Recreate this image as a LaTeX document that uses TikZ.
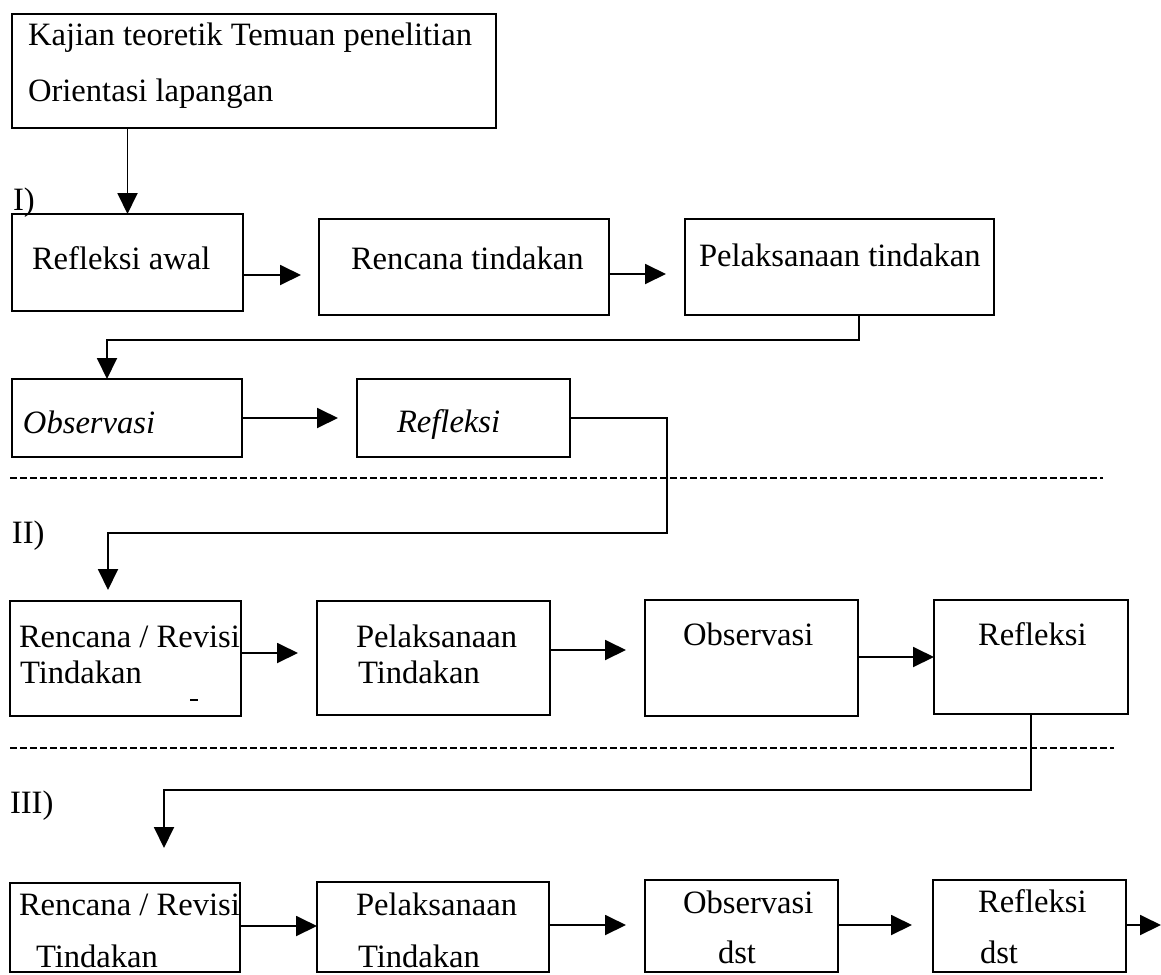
\documentclass[tikz,border=0pt]{standalone}
\usepackage{fontspec}
\setmainfont{Liberation Serif}
\usetikzlibrary{arrows.meta}
\begin{document}
\begin{tikzpicture}[x=1pt,y=-1pt,
  box/.style={draw, line width=2pt, inner sep=0pt, outer sep=0pt, anchor=north west},
  txt/.style={anchor=base west, inner sep=0pt, outer sep=0pt, font=\fontsize{32.6}{38}\selectfont},
  itxt/.style={txt, font=\fontsize{32.6}{38}\selectfont\itshape},
  arr/.style={line width=1.9pt, -{Triangle[length=21pt,width=20pt]}},
  sepline/.style={line width=1.5pt, dash pattern=on 7pt off 3pt}]
\useasboundingbox (0,0) rectangle (1161,974);

% boxes
\node[box, minimum width=484pt, minimum height=114pt] (b0) at (12,14) {};
\node[box, minimum width=231pt, minimum height=97pt] (ra) at (12,214) {};
\node[box, minimum width=290pt, minimum height=96pt] (rt) at (319,219) {};
\node[box, minimum width=309pt, minimum height=96pt] (pt) at (685,219) {};
\node[box, minimum width=230pt, minimum height=78pt] (ob1) at (12,379) {};
\node[box, minimum width=213pt, minimum height=78pt] (rf1) at (357,379) {};
\node[box, minimum width=231pt, minimum height=115pt] (rr2) at (10,601) {};
\node[box, minimum width=233pt, minimum height=114pt] (pl2) at (317,601) {};
\node[box, minimum width=213pt, minimum height=116pt] (ob2) at (645,600) {};
\node[box, minimum width=194pt, minimum height=114pt] (rf2) at (934,600) {};
\node[box, minimum width=230pt, minimum height=89pt] (rr3) at (10,883) {};
\node[box, minimum width=232pt, minimum height=90pt] (pl3) at (317,882) {};
\node[box, minimum width=193pt, minimum height=92pt] (ob3) at (645,880) {};
\node[box, minimum width=193pt, minimum height=92pt] (rf3) at (933,880) {};

% texts
\node[txt] (t0a) at (28,46) {Kajian teoretik Temuan penelitian};
\node[txt] (t0b) at (28,101) {Orientasi lapangan};
\node[txt] (tra) at (32,269) {Refleksi awal};
\node[txt] (trt) at (351,269) {Rencana tindakan};
\node[txt] (tpt) at (699,266) {Pelaksanaan tindakan};
\node[itxt] (tob1) at (23,433) {Observasi};
\node[itxt] (trf1) at (397,432) {Refleksi};
\node[txt] (trr2a) at (19,647) {Rencana / Revisi};
\node[txt] (trr2b) at (20,683) {Tindakan};
\node[txt] (tpl2a) at (356,647) {Pelaksanaan};
\node[txt] (tpl2b) at (358,683) {Tindakan};
\node[txt] (tob2) at (683,645) {Observasi};
\node[txt] (trf2) at (978,645) {Refleksi};
\node[txt] (trr3a) at (19,915) {Rencana / Revisi};
\node[txt] (trr3b) at (36,967) {Tindakan};
\node[txt] (tpl3a) at (356,915) {Pelaksanaan};
\node[txt] (tpl3b) at (358,967) {Tindakan};
\node[txt] (tob3a) at (683,913) {Observasi};
\node[txt] (tob3b) at (718,963) {dst};
\node[txt] (trf3a) at (978,912) {Refleksi};
\node[txt] (trf3b) at (980,963) {dst};

% cycle labels
\node[txt] (l1) at (13,210) {I)};
\node[txt] (l2) at (12,543) {II)};
\node[txt] (l3) at (10,813) {III)};

% separators
\draw[sepline] (10,478) -- (1103,478);
\draw[sepline] (10,748) -- (1114,748);

% stray mark
\draw[line width=2pt] (190,700) -- (198,700);

% connectors
\draw[arr] (b0.south -| ra.north) -- (ra.north);
\draw[arr, shorten >=18pt] (ra.east |- 0,275) -- (rt.west |- 0,275);
\draw[arr, shorten >=19pt] (rt.east |- 0,274) -- (pt.west |- 0,274);
\draw[arr] (pt.south -| 859,0) -- (859,340) -| (ob1.north -| 107,0);
\draw[arr, shorten >=19pt] (ob1.east) -- (rf1.west |- ob1.east);
\draw[arr, shorten >=11pt] (rf1.east) -| (667,533) -| (rr2.north -| 108,0);

\draw[arr, shorten >=19pt] (rr2.east |- 0,653) -- (pl2.west |- 0,653);
\draw[arr, shorten >=19pt] (pl2.east |- 0,650) -- (ob2.west |- 0,650);
\draw[arr] (ob2.east |- 0,657) -- (rf2.west |- 0,657);
\draw[arr, shorten >=35pt] (rf2.south -| 1031,0) -- (1031,790) -| (rr3.north -| 164,0);

\draw[arr] (rr3.east |- 0,926) -- (pl3.west |- 0,926);
\draw[arr, shorten >=19pt] (pl3.east |- 0,925) -- (ob3.west |- 0,925);
\draw[arr, shorten >=21pt] (ob3.east |- 0,925) -- (rf3.west |- 0,925);
\coordinate (out) at (1161,925);
\draw[arr] (rf3.east |- out) -- (out);
\end{tikzpicture}
\end{document}
